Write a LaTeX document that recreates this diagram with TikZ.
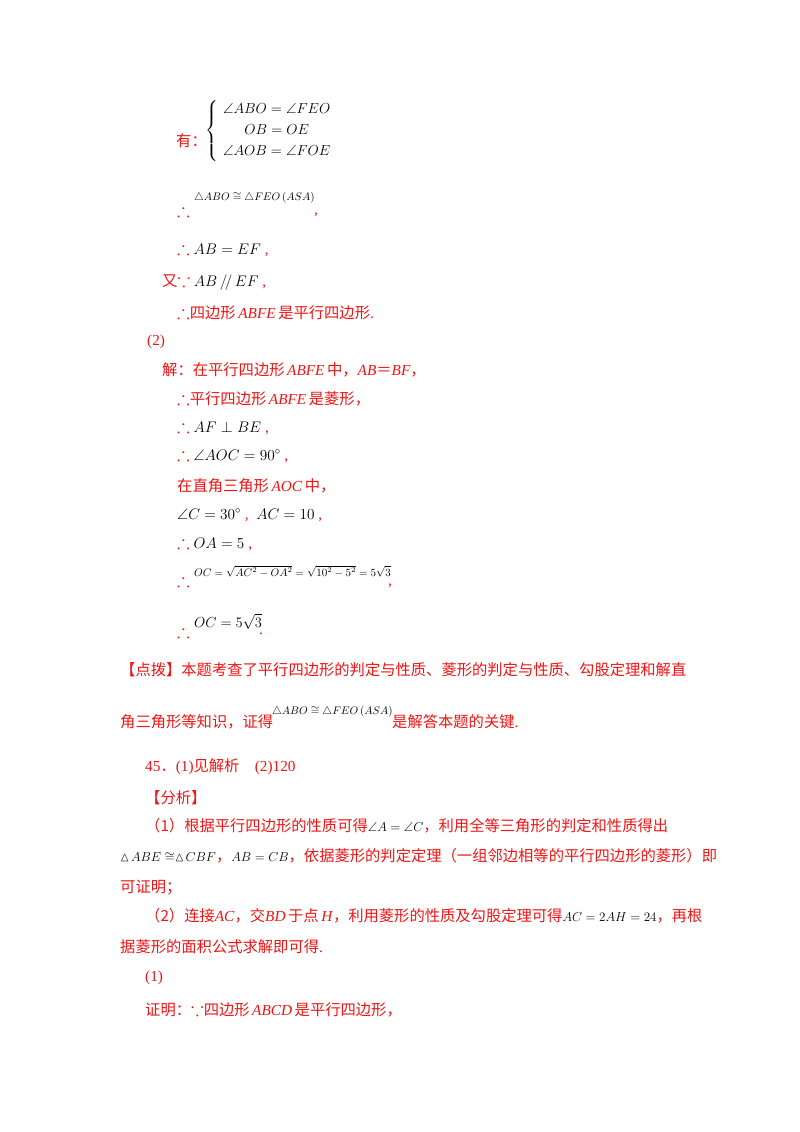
\documentclass[tikz,border=0pt]{standalone}
\usepackage{fix-cm}
\usepackage{amsmath,amssymb}
\usepackage{fontspec}
\setmainfont{Liberation Serif}
\newfontfamily\cjk{Noto Sans CJK SC}
\definecolor{rd}{RGB}{240,20,20}
\newcommand{\cn}[1]{{\cjk #1}}
\newcommand{\tf}{{\fontsize{19}{19}\selectfont$\therefore$}}
\newcommand{\bc}{{\fontsize{19}{19}\selectfont$\because$}}
\newcommand{\smm}[1]{{\fontsize{13}{15}\selectfont\color{black}$#1$}}
\begin{document}
\begin{tikzpicture}[x=1pt,y=1pt,
  t/.style={anchor=base west,inner sep=0,text=rd,font=\fontsize{15.3}{17}\selectfont},
  m/.style={anchor=base west,inner sep=0,text=black,font=\fontsize{14.5}{16}\selectfont},
  sm/.style={anchor=base west,inner sep=0,text=black,font=\fontsize{11}{13}\selectfont}]
\useasboundingbox (0,0) rectangle (800,-1132);
\node[t] (a1) at (176,-146) {\cn{有：}};
\node[m,anchor=west] (a2) at (205,-131) {$\left\{\begin{array}{c}\angle ABO=\angle FEO\\[5pt] OB=OE\\[5pt] \angle AOB=\angle FOE\end{array}\right.$};
\node[t] (b1) at (177,-216) {\tf};
\node[sm] (b2) at (194,-200) {$\triangle ABO\cong\triangle FEO\left(ASA\right)$};
\node[t] (b3) at (314,-214) {,};
\node[t] (c1) at (177,-254) {\tf\ \textcolor{black}{$AB=EF$} ,};
\node[t] (c2) at (162,-286) {\cn{又}\bc\ \textcolor{black}{$AB\,/\!/\,EF$} ,};
\node[t] (c3) at (177,-318) {\tf\cn{四边形}\,\textit{ABFE}\,\cn{是平行四边形}.};
\node[t] (d0) at (147,-345) {(2)};
\node[t] (d1) at (162,-375) {\cn{解：在平行四边形}\,\textit{ABFE}\,\cn{中，}\textit{AB}\cn{＝}\textit{BF}\cn{，}};
\node[t] (d2) at (177,-404) {\tf\cn{平行四边形}\,\textit{ABFE}\,\cn{是菱形，}};
\node[t] (d3) at (177,-432) {\tf\ \textcolor{black}{$AF\perp BE$} ,};
\node[t] (d4) at (177,-460) {\tf\ \textcolor{black}{$\angle AOC=90^\circ$} ,};
\node[t] (d5) at (177,-491) {\cn{在直角三角形}\,\textit{AOC}\,\cn{中，}};
\node[t] (d6) at (177,-519) {\textcolor{black}{$\angle C=30^\circ$} ,\ \ \textcolor{black}{$AC=10$} ,};
\node[t] (d7) at (177,-548) {\tf\ \textcolor{black}{$OA=5$} ,};
\node[t] (e1) at (177,-586) {\tf};
\node[sm] (e2) at (194,-576) {$OC=\sqrt{AC^2-OA^2}=\sqrt{10^2-5^2}=5\sqrt{3}$};
\node[t] (e3) at (388,-585) {,};
\node[t] (f1) at (177,-637) {\tf};
\node[m] (f2) at (194,-627) {$OC=5\sqrt{3}$};
\node[t] (f3) at (259,-634) {.};
\node[t] (g1) at (120,-675) {\cn{【点拨】本题考查了平行四边形的判定与性质、菱形的判定与性质、勾股定理和解直}};
\node[t] (g2) at (120,-727) {\cn{角三角形等知识，证得}};
\node[sm] (g3) at (272,-714) {$\triangle ABO\cong\triangle FEO\left(ASA\right)$};
\node[t] (g4) at (392,-727) {\cn{是解答本题的关键}.};
\node[t] (h1) at (145,-771) {45\cn{．}(1)\cn{见解析}\quad(2)120};
\node[t] (h2) at (145,-803) {\cn{【分析】}};
\node[t] (h3) at (145,-831) {\cn{（1）根据平行四边形的性质可得}\smm{\angle A=\angle C}\cn{，利用全等三角形的判定和性质得出}};
\node[t] (h4) at (120,-861) {\smm{\vartriangle\!ABE\cong\vartriangle\!CBF}\cn{，}\smm{AB=CB}\cn{，依据菱形的判定定理（一组邻边相等的平行四边形的菱形）即}};
\node[t] (h5) at (120,-892) {\cn{可证明；}};
\node[t] (h6) at (145,-921) {\cn{（2）连接}\textit{AC}\cn{，交}\textit{BD}\,\cn{于点}\,\textit{H}\cn{，利用菱形的性质及勾股定理可得}\smm{AC=2AH=24}\cn{，再根}};
\node[t] (h7) at (120,-952) {\cn{据菱形的面积公式求解即可得}.};
\node[t] (h8) at (145,-981) {(1)};
\node[t] (h9) at (145,-1015) {\cn{证明：}\bc\cn{四边形}\,\textit{ABCD}\,\cn{是平行四边形，}};
\end{tikzpicture}
\end{document}
